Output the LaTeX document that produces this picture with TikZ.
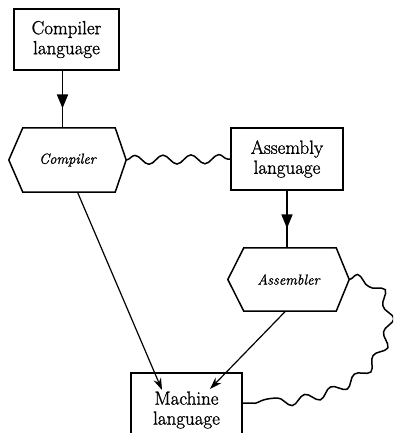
\documentclass[tikz,border=0pt]{standalone}
\usepackage{fontspec}
\newfontfamily\labelfont[FakeBold=1.2]{Latin Modern Roman}
\usetikzlibrary{arrows.meta,decorations.pathmorphing,decorations.markings,calc}
\begin{document}
\begin{tikzpicture}[x=1pt,y=-1pt,
 box/.style={draw,line width=1.6pt,inner sep=0pt,align=center,font=\labelfont\fontsize{19}{20}\selectfont},
 hexlbl/.style={inner sep=0pt,font=\labelfont\fontsize{14.5}{17}\selectfont\itshape},
 hexline/.style={line width=1.5pt,line join=miter},
 wavy/.style={line width=1.5pt,decorate,decoration={snake,segment length=28pt,amplitude=4.5pt}},
 midarrow/.style={line width=1.6pt,postaction={decorate},decoration={markings,mark=at position 0.66 with {\arrow{Triangle[length=14pt,width=11pt]}}}},
 endarrow/.style={line width=1.2pt,-{Stealth[length=12pt,width=8pt]}}]
\useasboundingbox (0,0) rectangle (393,433);
\clip (0,0) rectangle (393,433);
\fill[white] (0,0) rectangle (393,433);
\node[box,minimum width=105pt,minimum height=61pt] (cl) at (66.5,39.5) {Compiler\\language};
\node[hexlbl,minimum width=117pt,minimum height=64pt] (comp) at (67.5,160) {Compiler};
\node[box,minimum width=112pt,minimum height=62pt] (al) at (287,159) {Assembly\\language};
\node[hexlbl,minimum width=121pt,minimum height=63pt] (asm) at (288.5,279.5) {Assembler};
\node[box,minimum width=111pt,minimum height=74pt] (ml) at (186.5,410) {Machine\\language};
\coordinate (m1) at (162,390);
\coordinate (m2) at (210,389);
\draw[hexline] (comp.west) -- ([xshift=14pt]comp.north west) -- ([xshift=-11pt]comp.north east) -- (comp.east) -- ([xshift=-11pt]comp.south east) -- ([xshift=14pt]comp.south west) -- cycle;
\draw[hexline] (asm.west) -- ([xshift=16pt]asm.north west) -- ([xshift=-13pt]asm.north east) -- (asm.east) -- ([xshift=-13pt]asm.south east) -- ([xshift=16pt]asm.south west) -- cycle;
\draw[midarrow] ([xshift=-4pt]cl.south) -- ([xshift=-4pt]cl.south |- comp.north);
\draw[midarrow] (al.south) -- (al.south |- asm.north);
\draw[endarrow] ([xshift=10pt]comp.south) -- (m1);
\draw[endarrow] ([xshift=-3pt]asm.south) -- (m2);
\draw[wavy] (comp.east) -- (al.west);
\draw[wavy] (asm.east) .. controls (400,276) and (412,408) .. ([yshift=7pt]ml.east);
\end{tikzpicture}
\end{document}
